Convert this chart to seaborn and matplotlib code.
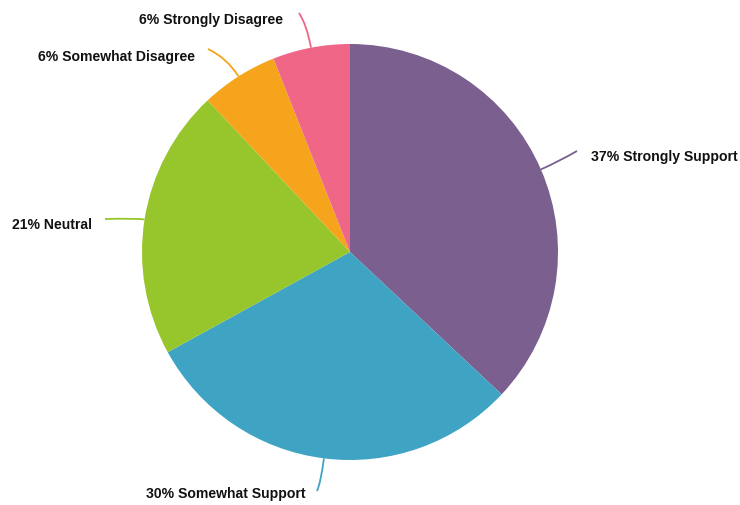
import numpy as np
import matplotlib
matplotlib.use("Agg")
import matplotlib.pyplot as plt
from matplotlib.path import Path
from matplotlib.patches import PathPatch
import seaborn as sns

# Survey responses (share of respondents, %)
categories = ["Strongly Support", "Somewhat Support", "Neutral",
              "Somewhat Disagree", "Strongly Disagree"]
shares = [37, 30, 21, 6, 6]
colors = ["#7B5F8E", "#3FA3C4", "#96C62B", "#F5A41C", "#EF6687"]

sns.set_theme(style="white")
plt.rcParams["font.family"] = ["Liberation Sans", "DejaVu Sans"]

W, H = 740, 506
fig = plt.figure(figsize=(W / 100, H / 100), dpi=100)
ax = fig.add_axes([0, 0, 1, 1])

cx, cy, r = 350, 253, 208
palette = sns.color_palette(colors)
wedges, _ = ax.pie(shares, colors=palette, startangle=90, counterclock=False,
                   center=(cx, cy), radius=r, frame=True,
                   wedgeprops=dict(linewidth=0))
ax.set_xlim(0, W)
ax.set_ylim(0, H)
ax.set_aspect("equal")
ax.axis("off")

# label anchor (text x, text y, alignment), end of leader line, leader bend length
label_layout = [
    (591, 349, "left", (577, 354), 18),
    (305, 12, "right", (317, 14), 24),
    (92, 281, "right", (105, 286), 8),
    (195, 449, "right", (208, 456), 22),
    (283, 486, "right", (299, 492), 24),
]

for w, cat, val, col, (tx, ty, ha, end, ext) in zip(
        wedges, categories, shares, palette, label_layout):
    mid = np.deg2rad((w.theta1 + w.theta2) / 2)
    ux, uy = np.cos(mid), np.sin(mid)
    start = (cx + r * ux, cy + r * uy)
    ctrl = (start[0] + ext * ux, start[1] + ext * uy)
    path = Path([start, ctrl, end], [Path.MOVETO, Path.CURVE3, Path.CURVE3])
    ax.add_patch(PathPatch(path, facecolor="none", edgecolor=col, lw=1.3,
                           clip_on=False))
    ax.text(tx, ty, f"{val}% {cat}", ha=ha, va="center", fontsize=10.1,
            fontweight="bold", color="#111111")

fig.savefig("out.png", dpi=100)
